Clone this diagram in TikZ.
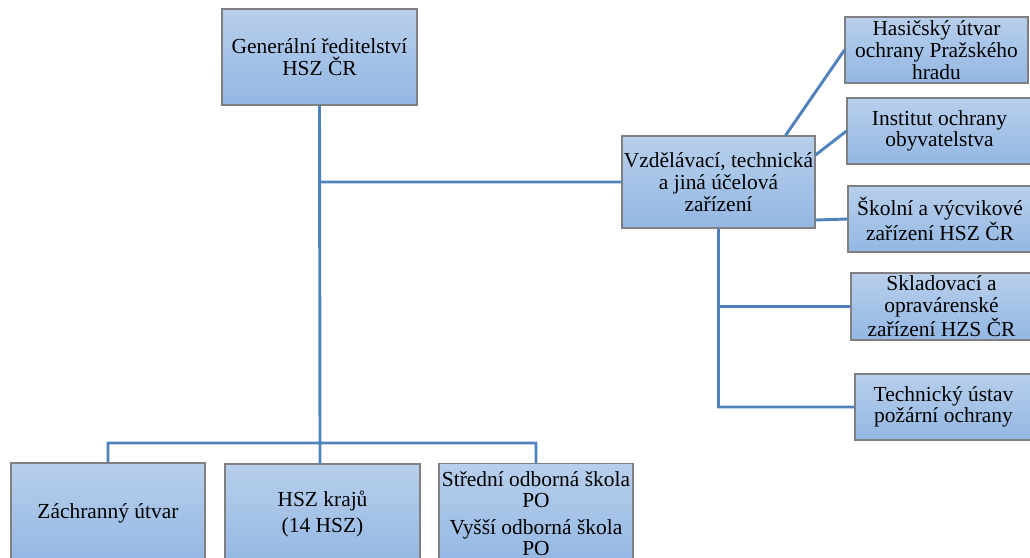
\documentclass[tikz,border=0pt]{standalone}
\usepackage{fontspec}
\setmainfont{Liberation Serif}
\usepackage{tikz}
\usetikzlibrary{positioning}

\definecolor{boxtop}{RGB}{184,207,236}
\definecolor{boxbot}{RGB}{147,183,227}
\definecolor{boxline}{RGB}{128,128,128}
\definecolor{link}{RGB}{79,129,189}

\begin{document}
\begin{tikzpicture}[
    x=0.03cm, y=-0.03cm,
    every node/.style={font=\fontsize{18.3}{18.5}\selectfont, align=center, inner sep=0pt},
    unit/.style={draw=boxline, line width=0.9pt, top color=boxtop, bottom color=boxbot},
    link/.style={draw=link, line width=2.5pt}
]
    \useasboundingbox (0,0) rectangle (1030,558);
    \clip (0,0) rectangle (1030,558);

    % top level
    \node[unit, minimum width=5.85cm, minimum height=2.88cm] (gen) at (319.5,57) {Generální ředitelství\\HSZ ČR};
    \node[unit, minimum width=5.79cm, minimum height=2.76cm] (vzd) at (718.5,182) {Vzdělávací, technická\\a jiná účelová\\zařízení};

    % facilities on the right
    \node[unit, minimum width=5.49cm, minimum height=1.98cm] (has) at (936.5,50) {Hasičský útvar\\ochrany Pražského\\hradu};
    \node[unit, minimum width=5.55cm, minimum height=1.98cm] (ins) at (939.5,131) {Institut ochrany\\obyvatelstva};
    \node[unit, minimum width=5.52cm, minimum height=1.98cm] (sko) at (940,219) {Školní a výcvikové\\zařízení HSZ ČR};
    \node[unit, minimum width=5.43cm, minimum height=2.01cm] (skl) at (941.5,306.5) {Skladovací a\\opravárenské\\zařízení HZS ČR};
    \node[unit, minimum width=5.31cm, minimum height=1.98cm] (tec) at (943.5,407) {Technický ústav\\požární ochrany};

    % bottom row
    \node[unit, minimum width=5.82cm, minimum height=3cm] (zach) at (108,513) {Záchranný útvar};
    \node[unit, minimum width=5.85cm, minimum height=3cm] (kraj) at (322.5,514) {HSZ krajů\\[4pt](14 HSZ)};
    \node[unit, minimum width=5.82cm, minimum height=3cm] (sos) at (536,513.5) {Střední odborná škola\\PO\\[4pt]Vyšší odborná škola\\PO};

    \coordinate (bus) at (320,443);
    \coordinate (arm) at (320,182);

    \path[link]
        (gen.south) -- (bus)
        (arm) -- (vzd.west)
        (zach.north) |- (bus) -| (sos.north)
        (bus) -- (bus |- kraj.north)
        ([xshift=-0.9cm]vzd.north east) -- (has.west)
        ([yshift=0.81cm]vzd.east) -- (ins.west)
        ([yshift=-1.14cm]vzd.east) -- (sko.west)
        (vzd.south) |- (skl.west)
        (vzd.south) |- (tec.west);
\end{tikzpicture}
\end{document}
